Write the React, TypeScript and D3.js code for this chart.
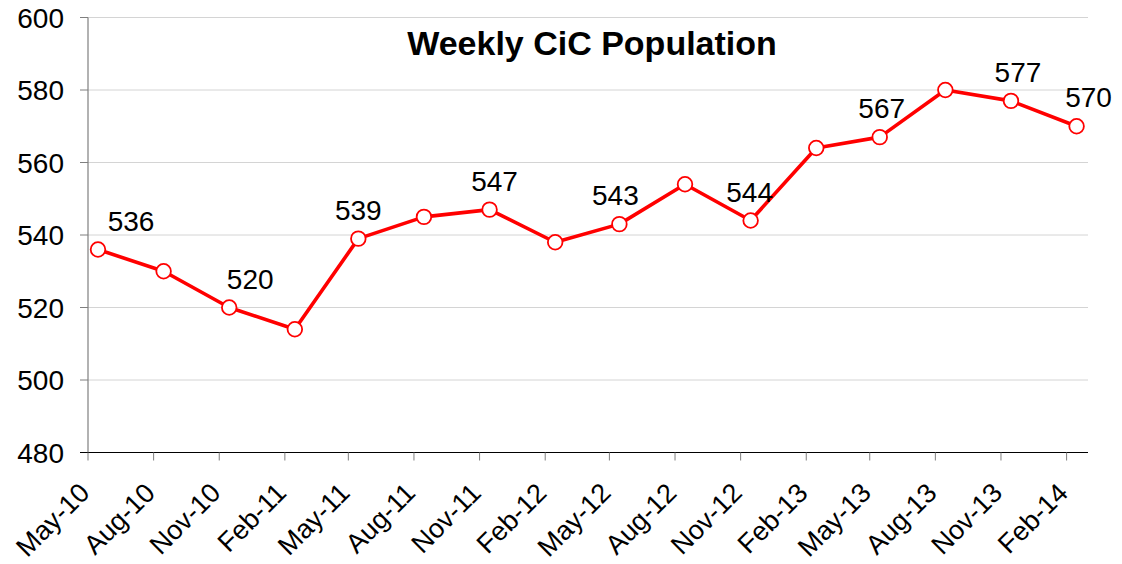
import { useEffect, useRef } from 'react';
import * as d3 from 'd3';

// Data
const dates: string[] = [
    '2010-05-15', '2010-08-15', '2010-11-15', '2011-02-15',
    '2011-05-15', '2011-08-15', '2011-11-15', '2012-02-15',
    '2012-05-15', '2012-08-15', '2012-11-15', '2013-02-15',
    '2013-05-15', '2013-08-15', '2013-11-15', '2014-02-15',
];
const values: number[] = [536, 530, 520, 514, 539, 545, 547, 538, 543, 554, 544, 564, 567, 580, 577, 570];
// which points carry a value label
const labelled: boolean[] = [true, false, true, false, true, false, true, false, true, false, true, false, true, false, true, true];
const tickDates: string[] = [
    '2010-05-01', '2010-08-01', '2010-11-01', '2011-02-01',
    '2011-05-01', '2011-08-01', '2011-11-01', '2012-02-01',
    '2012-05-01', '2012-08-01', '2012-11-01', '2013-02-01',
    '2013-05-01', '2013-08-01', '2013-11-01', '2014-02-01',
];
const yTicks: number[] = [480, 500, 520, 540, 560, 580, 600];
const title = 'Weekly CiC Population';

const App: React.FC = () => {
    const svgRef = useRef<SVGSVGElement>(null);

    useEffect(() => {
        if (!svgRef.current) return;
        const svg = d3.select(svgRef.current);
        svg.selectAll('*').remove();

        const left = 88, right = 1088, top = 17.5, bottom = 452.5;
        const font = 'Arial, "Liberation Sans", sans-serif';
        const parse = d3.utcParse('%Y-%m-%d');

        const x = d3.scaleUtc()
            .domain([parse('2010-05-01')!, parse('2014-03-03')!])
            .range([left, right]);
        const y = d3.scaleLinear().domain([480, 600]).range([bottom, top]);

        // Gridlines
        svg.append('g')
            .selectAll('line')
            .data(yTicks.filter(t => t !== 480))
            .join('line')
            .attr('x1', left).attr('x2', right)
            .attr('y1', d => y(d)).attr('y2', d => y(d))
            .attr('stroke', '#d4d4d4').attr('stroke-width', 1);

        // Y axis
        svg.append('line')
            .attr('x1', left).attr('x2', left)
            .attr('y1', top).attr('y2', bottom)
            .attr('stroke', '#7f7f7f').attr('stroke-width', 1.2);
        svg.append('g')
            .selectAll('line')
            .data(yTicks)
            .join('line')
            .attr('x1', left - 8).attr('x2', left)
            .attr('y1', d => y(d)).attr('y2', d => y(d))
            .attr('stroke', '#7f7f7f').attr('stroke-width', 1);
        svg.append('g')
            .selectAll('text')
            .data(yTicks)
            .join('text')
            .attr('x', 64)
            .attr('y', d => y(d))
            .attr('dy', '0.36em')
            .attr('text-anchor', 'end')
            .style('font-family', font)
            .style('font-size', '28px')
            .attr('fill', '#000')
            .text(d => d);

        // X axis
        svg.append('line')
            .attr('x1', left - 8).attr('x2', right)
            .attr('y1', bottom).attr('y2', bottom)
            .attr('stroke', '#000').attr('stroke-width', 1.2);
        svg.append('g')
            .selectAll('line')
            .data(tickDates)
            .join('line')
            .attr('x1', d => x(parse(d)!)).attr('x2', d => x(parse(d)!))
            .attr('y1', bottom).attr('y2', bottom + 8)
            .attr('stroke', '#7f7f7f').attr('stroke-width', 1);
        const fmt = d3.utcFormat('%b-%y');
        svg.append('g')
            .selectAll('text')
            .data(tickDates)
            .join('text')
            .attr('transform', d => `translate(${x(parse(d)!) + 3},${bottom + 42}) rotate(-45)`)
            .attr('text-anchor', 'end')
            .style('font-family', font)
            .style('font-size', '27px')
            .attr('fill', '#000')
            .text(d => fmt(parse(d)!));

        // Line
        const pts = dates.map((d, i) => ({ date: parse(d)!, value: values[i], show: labelled[i] }));
        const line = d3.line<{ date: Date; value: number }>()
            .x(d => x(d.date))
            .y(d => y(d.value));
        svg.append('path')
            .datum(pts)
            .attr('d', line)
            .attr('fill', 'none')
            .attr('stroke', '#ff0000')
            .attr('stroke-width', 3.6)
            .attr('stroke-linejoin', 'round');

        svg.append('g')
            .selectAll('circle')
            .data(pts)
            .join('circle')
            .attr('cx', d => x(d.date))
            .attr('cy', d => y(d.value))
            .attr('r', 7.3)
            .attr('fill', '#fff')
            .attr('stroke', '#ff0000')
            .attr('stroke-width', 1.8);

        // Value labels
        const labelDx = [33, 0, 21, 0, 0, 0, 5, 0, -4, 0, -1, 0, 2, 0, 7, 12];
        svg.append('g')
            .selectAll('text')
            .data(pts.map((p, i) => ({ ...p, dx: labelDx[i] })).filter(p => p.show))
            .join('text')
            .attr('x', d => x(d.date) + d.dx)
            .attr('y', d => y(d.value) - 19)
            .attr('text-anchor', 'middle')
            .style('font-family', font)
            .style('font-size', '28px')
            .attr('fill', '#000')
            .text(d => d.value);

        // Title
        svg.append('text')
            .attr('x', 592)
            .attr('y', 55)
            .attr('text-anchor', 'middle')
            .style('font-family', font)
            .style('font-size', '34px')
            .style('font-weight', 'bold')
            .attr('fill', '#000')
            .text(title);
    }, []);

    return (
        <svg
            ref={svgRef}
            width={1122}
            height={564}
            style={{ position: 'absolute', left: 0, top: 0, background: '#fff' }}
        />
    );
};

export default App;
